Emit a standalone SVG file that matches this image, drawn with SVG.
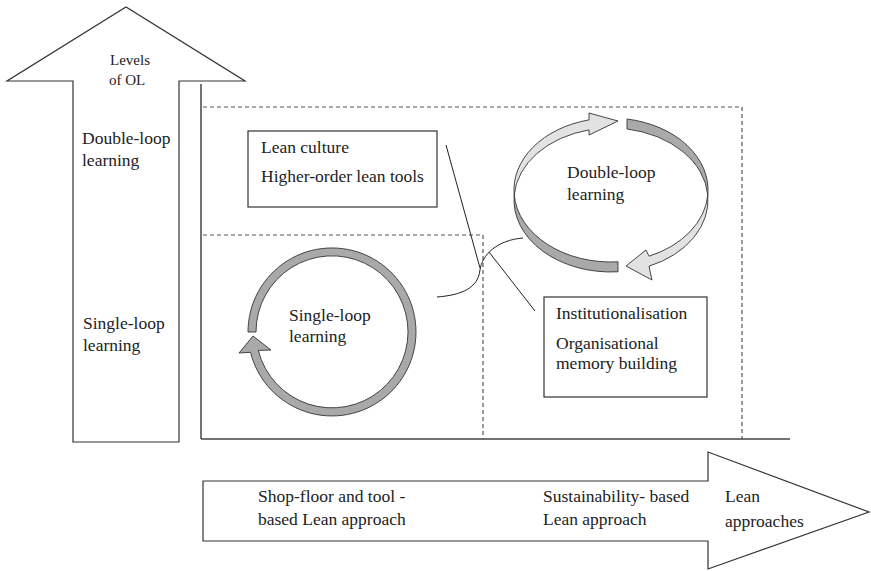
<svg xmlns="http://www.w3.org/2000/svg" width="871" height="571" viewBox="0 0 871 571">
<style>
text{font-family:"Liberation Serif","Times New Roman",serif;font-size:17.5px;fill:#222}
.sm{font-size:15px}
.shape{fill:#fff;stroke:#333;stroke-width:1.2}
.dash{fill:none;stroke:#555;stroke-width:1.2;stroke-dasharray:4 3}
.axis{fill:none;stroke:#444;stroke-width:1.5}
.conn{fill:none;stroke:#222;stroke-width:1}
.light{fill:#e2e2e2;stroke:#333;stroke-width:0.9;stroke-linejoin:round}
.dark{fill:#a9a9a9;stroke:#333;stroke-width:0.9;stroke-linejoin:round}
</style>
<rect width="871" height="571" fill="#fff"/>
<g id="up-arrow">
<polygon class="shape" points="73,442 73,81 7,81 126,7 245,81 179,81 179,442"/>
<text class="sm" x="110" y="65">Levels</text>
<text class="sm" x="109" y="85">of OL</text>
<text x="82" y="144">Double-loop</text>
<text x="82" y="166">learning</text>
<text x="83" y="329">Single-loop</text>
<text x="83" y="351">learning</text>
</g>
<g id="axes">
<line class="axis" x1="201" y1="84" x2="201" y2="439"/>
<line class="axis" x1="201" y1="439" x2="790" y2="439"/>
<polyline class="dash" points="203,107 742,107 742,439"/>
<polyline class="dash" points="203,235 483,235 483,439"/>
</g>
<g id="right-arrow">
<polygon class="shape" points="203,481 708,481 708,452 869,512 708,569 708,541 203,541"/>
<text x="258" y="502">Shop-floor and tool -</text>
<text x="258" y="525">based Lean approach</text>
<text x="543" y="502">Sustainability- based</text>
<text x="543" y="525">Lean approach</text>
<text x="725" y="502">Lean</text>
<text x="725" y="527">approaches</text>
</g>
<g id="lean-culture">
<rect class="shape" x="248" y="131" width="189" height="76"/>
<text x="261" y="153">Lean culture</text>
<text x="261" y="182">Higher-order lean tools</text>
</g>
<g id="institutionalisation">
<rect class="shape" x="544" y="297" width="163" height="100"/>
<text x="556" y="319">Institutionalisation</text>
<text x="556" y="349">Organisational</text>
<text x="556" y="369">memory building</text>
</g>
<g id="single-loop">
<path class="dark" d="M248,332 A84,84 0 1 1 250.5,352.3 L239,353 L253,336 L271,350 L258.3,350.4 A76,76 0 1 0 256,332 Z"/>
<text x="289" y="321">Single-loop</text>
<text x="289" y="342">learning</text>
</g>
<g id="double-loop">
<path class="light" d="M514.2,195 A97,72 0 0 1 589,119.9 L589,113 L618,121 L589,135 L589,129.9 A97,72 0 0 0 514.2,195 Z"/>
<path class="dark" d="M514.2,195 A97,72 0 0 0 618,271.8 L618,261.8 A97,72 0 0 1 514.2,195 Z"/>
<path class="dark" d="M627,119 A97,72 0 0 1 707.8,195 A97,72 0 0 0 627,129 Z"/>
<path class="light" d="M707.8,195 A97,72 0 0 1 649,266.2 L652,280 L626,266 L646,250 L649,256.2 A97,72 0 0 0 707.8,195 Z"/>
<text x="567" y="178">Double-loop</text>
<text x="567" y="200">learning</text>
</g>
<g id="connectors">
<line class="conn" x1="446" y1="145" x2="480" y2="268"/>
<path class="conn" d="M437,297 C462,295 478,288 480,270 C482,255 497,240 523,238"/>
<line class="conn" x1="489" y1="252" x2="535" y2="311"/>
</g>
</svg>
